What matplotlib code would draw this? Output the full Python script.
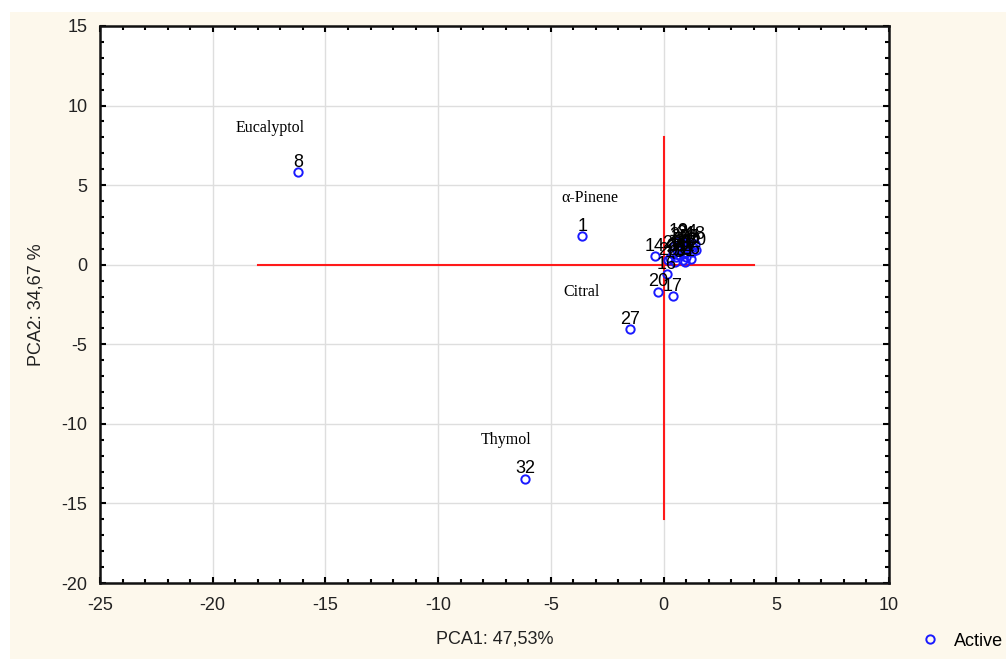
import matplotlib
matplotlib.use("Agg")
import matplotlib.pyplot as plt
from matplotlib.patches import Rectangle
from matplotlib.ticker import MultipleLocator

plt.rcParams["font.family"] = ["Liberation Sans", "DejaVu Sans"]
plt.rcParams["axes.unicode_minus"] = False

# ---- data ----
labels = [1, 8, 27, 32, 14, 20, 17,
          2, 3, 4, 5, 6, 7, 9, 10, 11, 12, 13, 15, 16, 18, 19, 21, 22, 23, 24, 25, 26, 28, 29, 30, 31]
pca1 = [-3.6, -16.2, -1.5, -6.15, -0.38, -0.25, 0.4,
        0.45, 0.8, 1.1, 0.6, 0.95, 1.3, 0.3, 0.7, 1.0, 1.25, 0.5, 0.85, 0.15, 1.4, 0.65, 0.9, 1.15, 0.4, 1.05, 0.75, 1.2, 0.55, 0.2, 1.45, 0.95]
pca2 = [1.8, 5.82, -4.04, -13.45, 0.55, -1.7, -1.97,
        1.2, 1.35, 1.25, 0.9, 1.0, 1.1, 0.4, 0.6, 0.5, 0.8, 0.15, 0.3, -0.6, 1.3, 1.45, 0.75, 1.0, 0.7, 1.4, 1.1, 0.35, 0.5, 0.3, 0.9, 0.2]
names = ["Eucalyptol", "α-Pinene", "Citral", "Thymol"]
name_x = [-17.46, -3.26, -3.66, -6.99]
name_y = [8.59, 4.19, -1.72, -11.02]
hline_x = [-18, 4]
vline_y = [-16, 8]
xlabel = "PCA1: 47,53%"
ylabel = "PCA2: 34,67 %"
series_name = "Active"

fig = plt.figure(figsize=(10.06, 6.59), dpi=100)
fig.patch.set_facecolor("white")
fig.add_artist(Rectangle((10/1006, 0), 1, 1 - 12/659, transform=fig.transFigure,
                         facecolor="#fdf8ec", edgecolor="none", zorder=-10))

ax = fig.add_axes([100/1006, 1 - 583/659, 789/1006, 557/659])
ax.set_facecolor("white")
ax.set_xlim(-25, 10)
ax.set_ylim(-20, 15)
ax.xaxis.set_major_locator(MultipleLocator(5))
ax.yaxis.set_major_locator(MultipleLocator(5))
ax.xaxis.set_minor_locator(MultipleLocator(1))
ax.yaxis.set_minor_locator(MultipleLocator(1))
ax.grid(True, which="major", color="#dedede", linewidth=1.0, zorder=0)
ax.set_axisbelow(True)
ax.tick_params(which="both", direction="in", top=True, right=True, color="black")
ax.tick_params(which="major", length=4, width=1.5, labelsize=13, labelcolor="#222222", pad=10)
ax.tick_params(axis="y", which="major", pad=9)
ax.tick_params(which="minor", length=3, width=1.5)
for s in ax.spines.values():
    s.set_linewidth(1.8)
    s.set_color("#111111")

ax.plot(hline_x, [0, 0], color="#ff1a1a", linewidth=1.5, zorder=2)
ax.plot([0, 0], vline_y, color="#ff1a1a", linewidth=1.5, zorder=2)

ax.plot(pca1, pca2, linestyle="none", marker="o", markersize=6, markerfacecolor="none",
        markeredgecolor="#1a1aff", markeredgewidth=1.4, zorder=3, label=series_name)

for lab, x, y in zip(labels, pca1, pca2):
    ax.annotate(str(lab), (x, y), xytext=(0, 1), textcoords="offset points",
                ha="center", va="bottom", fontsize=13, color="black", zorder=4)

for n, x, y in zip(names, name_x, name_y):
    ax.text(x, y, n, ha="center", va="center", fontsize=11.5,
            family=["Liberation Serif", "DejaVu Serif"], color="black", zorder=4)

ax.set_xlabel(xlabel, fontsize=13, color="#222222", labelpad=12)
ax.set_ylabel(ylabel, fontsize=13, color="#222222", labelpad=12)

ax.legend(loc="center left", bbox_to_anchor=(912/1006, 1 - 641/659),
          bbox_transform=fig.transFigure, frameon=False, fontsize=13,
          handlelength=1.0, handletextpad=0.8, borderpad=0)

fig.savefig("out.png", dpi=100, facecolor=fig.get_facecolor())
